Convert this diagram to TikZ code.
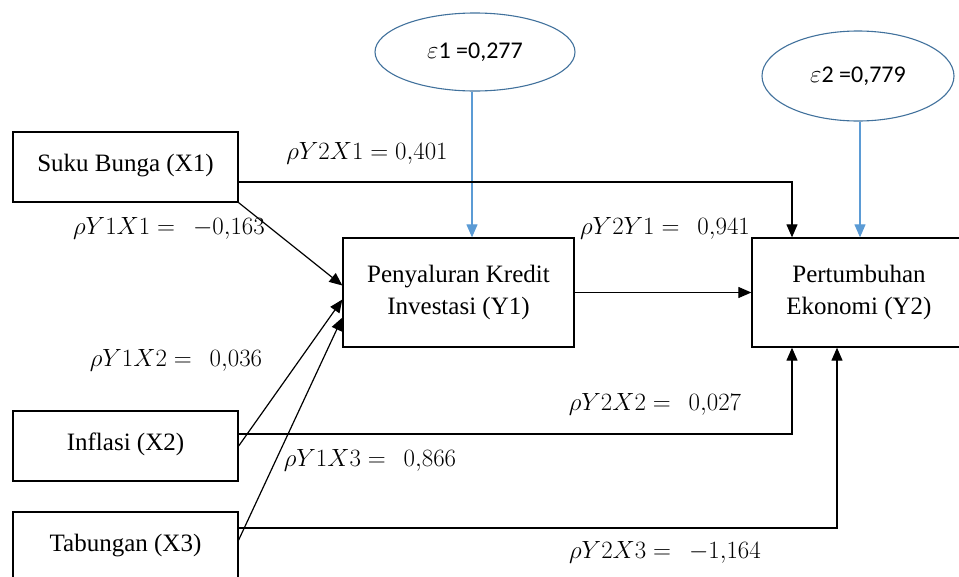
\documentclass[tikz,border=0pt]{standalone}
\usepackage{amsmath,amssymb}
\usepackage{fontspec}
\setmainfont{Liberation Serif}
\newfontfamily\boxfont{Liberation Serif}
\newfontfamily\errfont{Carlito}
\usepackage{tikz}
\usetikzlibrary{arrows.meta,calc,positioning,shapes.geometric}
\definecolor{errline}{RGB}{65,113,156}
\definecolor{errarrow}{RGB}{91,155,213}
\newcommand{\boxsize}{\fontsize{25}{32}\selectfont}
\newcommand{\coefsize}{\fontsize{26}{30}\selectfont}
\newcommand{\upbox}[1]{\raisebox{8pt}{#1}}

\begin{document}
\begin{tikzpicture}[
    x=1pt, y=-1pt,
    varbox/.style={draw, rectangle, line width=1.3pt, inner sep=0, align=center, font=\boxfont\boxsize},
    errnode/.style={draw=errline, ellipse, line width=1.1pt, inner sep=0, font=\errfont\fontsize{24}{28}\selectfont},
    coef/.style={inner sep=0, font=\coefsize},
    conn/.style={draw, line width=1.2pt, -{Triangle[length=13pt, width=11pt]}},
    errconn/.style={draw=errarrow, line width=1.2pt, -{Triangle[length=13pt, width=11pt]}}]
\clip (0,0) rectangle (959,576);

\node[varbox, minimum width=225pt, minimum height=70pt] (x1) at (125.5,167) {\upbox{Suku Bunga (X1)}};
\node[varbox, minimum width=225pt, minimum height=70pt] (x2) at (125.5,446) {\upbox{Inflasi (X2)}};
\node[varbox, minimum width=225pt, minimum height=70pt] (x3) at (125.5,547) {\upbox{Tabungan (X3)}};
\node[varbox, minimum width=231pt, minimum height=109pt] (y1) at (458.5,292.5) {Penyaluran Kredit\\Investasi (Y1)};
\node[varbox, minimum width=214pt, minimum height=109pt] (y2) at (859,292.5) {Pertumbuhan\\Ekonomi (Y2)};
\node[errnode, minimum width=200pt, minimum height=78pt] (e1) at (475,52) {$\varepsilon$1 =0,277};
\node[errnode, minimum width=192pt, minimum height=90pt] (e2) at (858,76) {$\varepsilon$2 =0,779};

\node[coef] (c21) at (367,153) {$\rho Y2X1 = 0{,}401$};
\node[coef] (c11) at (169,228) {$\rho Y1X1 =\;\, -0{,}163$};
\node[coef] (c12) at (176,360) {$\rho Y1X2 =\;\, 0{,}036$};
\node[coef] (c13) at (370,460) {$\rho Y1X3 =\;\, 0{,}866$};
\node[coef] (cyy) at (665,228) {$\rho Y2Y1 =\;\, 0{,}941$};
\node[coef] (c22) at (655,404) {$\rho Y2X2 =\;\, 0{,}027$};
\node[coef] (c23) at (665,552) {$\rho Y2X3 =\;\, -1{,}164$};

\draw[errconn] ([xshift=-3pt]e1.south) -- ([xshift=-3pt]e1.south |- y1.north);
\draw[errconn] ([xshift=2pt]e2.south) -- ([xshift=2pt]e2.south |- y2.north);
\draw[conn] ([yshift=-15pt]x1.east) -| ([xshift=-67pt]y2.north);
\draw[conn] ([yshift=12pt]x2.east) -| ([xshift=-67pt]y2.south);
\draw[conn] ([yshift=19pt]x3.east) -| ([xshift=-22pt]y2.south);
\draw[conn] (y1.east) -- (y2.west);
\draw[conn] (x1.south east) -- ([yshift=7pt]y1.west);
\draw[conn] (x2.east) -- ([yshift=-7pt]y1.west);
\draw[conn] ([yshift=7pt]x3.east) -- ([yshift=-25pt]y1.west);
\end{tikzpicture}
\end{document}
